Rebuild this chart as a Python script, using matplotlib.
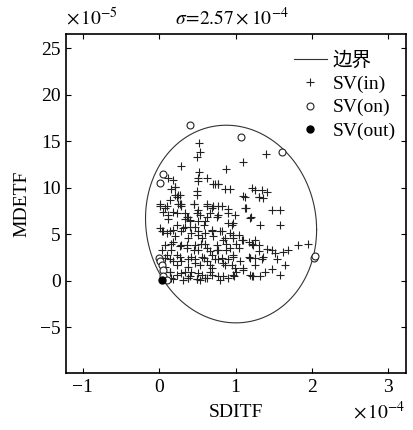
import numpy as np
import matplotlib
matplotlib.use("Agg")
import matplotlib.pyplot as plt

plt.rcParams['font.family'] = ['Liberation Serif', 'Noto Sans CJK SC']
plt.rcParams['mathtext.fontset'] = 'stix'

# SDITF in units of 1e-4, MDETF in units of 1e-5
sigma_txt = r'$\sigma\!=\!2.57\times10^{-4}$'

in_x = [
    0.52, 0.53, 0.50, 1.40, 0.29, 1.10, 0.87, 0.52, 0.51, 0.62, 0.73, 0.77,
    0.12, 0.18, 0.21, 0.16, 0.25, 0.23, 0.14,
    0.21, 0.51, 0.71, 0.77, 0.86, 0.93, 1.21, 1.34, 1.25, 1.36, 1.41, 1.12, 1.30,
    0.21, 0.27, 0.49, 0.49, 1.10, 1.30,
    0.01, 0.10, 0.25, 0.29, 0.46, 0.62, 0.71, 0.82, 1.12, 1.14, 1.47, 1.58,
    0.05, 0.18, 0.34, 0.38, 0.49, 0.66, 0.77, 0.90, 0.99, 1.20,
    0.12, 0.34, 0.40, 0.51, 0.60, 1.19, 1.32, 1.58,
    0.01, 0.23, 0.34, 0.47, 0.58, 0.90, 0.97,
    0.05, 0.14, 0.29, 0.42, 0.51, 0.69, 0.82, 0.93, 1.04,
    0.21, 0.38, 0.56, 0.71, 0.84, 0.97, 1.08, 1.17, 1.25, 1.10,
    0.18, 0.29, 0.47, 0.60, 0.75, 0.88, 1.01, 1.23, 1.21, 1.30, 1.95, 1.82,
    0.03, 0.16, 0.36, 0.51, 0.66, 0.77, 0.93, 1.04, 1.30, 1.41, 1.47, 1.51,
    1.62, 1.69,
    0.10, 0.23, 0.42, 0.56, 0.69, 0.82, 0.97, 1.17, 1.25, 1.36, 1.54, 1.19,
    0.14, 0.29, 0.47, 0.62, 0.77, 0.90, 1.06, 1.34,
    0.08, 0.23, 0.38, 0.53, 0.69, 0.86, 0.99, 1.10, 1.25, 1.65, 1.47, 1.10,
    0.14, 0.29, 0.42, 0.56, 0.66, 0.77, 0.97, 1.19, 1.23, 1.38, 1.01, 1.58,
    0.16, 0.38, 0.49, 0.62, 0.84, 1.32, 1.21, 0.98,
    0.01, 0.07, 0.27, 0.29, 0.45, 0.51, 0.62, 0.69, 0.77, 0.90,
    0.12, 0.23, 0.36, 0.40, 0.53, 0.62, 0.75, 0.95,
    0.03, 0.10, 0.18, 0.31, 0.40, 0.51, 0.60, 0.69, 0.79, 0.86, 0.97,
    0.07, 0.16, 0.27, 0.36, 0.45, 0.55, 0.62, 0.75, 0.88, 0.97,
    0.07, 0.18, 0.27, 0.38, 0.47, 0.58, 0.66, 0.73, 0.84, 0.95,
    0.14, 0.23, 0.34, 0.40, 0.51, 0.60, 0.69, 0.79, 0.90,
    0.18, 0.31, 0.38, 0.49, 0.53,
]
in_y = [
    14.8, 13.8, 13.3, 13.6, 12.3, 12.8, 12.0, 11.7, 11.0, 11.0, 10.4, 10.4,
    11.0, 10.8, 10.1, 9.9, 9.2, 9.0, 8.7,
    10.1, 10.7, 10.4, 10.4, 9.9, 9.9, 10.0, 9.8, 9.8, 8.9, 9.5, 9.0, 9.0,
    9.2, 9.2, 9.6, 9.2, 9.1, 9.0,
    8.2, 8.0, 8.3, 8.3, 8.2, 8.2, 8.0, 8.0, 7.8, 7.8, 7.6, 7.6,
    7.4, 7.4, 7.3, 6.9, 7.3, 7.3, 7.1, 7.3, 7.1, 6.9,
    6.6, 6.6, 6.4, 6.4, 6.4, 6.8, 6.0, 6.0,
    5.7, 6.0, 5.8, 5.8, 6.0, 6.2, 6.2,
    5.3, 5.3, 5.3, 5.1, 5.3, 5.5, 5.3, 5.1, 4.9,
    4.8, 4.6, 4.6, 4.8, 4.4, 4.6, 4.4, 4.2, 4.4, 4.4,
    4.2, 3.9, 3.9, 4.0, 3.9, 4.0, 4.0, 3.9, 4.0, 3.9, 4.0, 3.8,
    3.3, 3.3, 3.5, 3.3, 3.2, 3.3, 3.5, 3.5, 3.2, 3.4, 3.3, 3.0,
    3.1, 3.3,
    2.8, 2.8, 2.6, 2.6, 2.8, 2.4, 2.6, 2.6, 2.4, 2.6, 2.3, 2.4,
    2.3, 2.1, 2.3, 2.1, 2.3, 2.3, 2.1, 2.3,
    1.5, 1.7, 1.5, 1.7, 1.4, 1.7, 1.4, 1.4, 1.7, 1.7, 1.3, 1.2,
    1.0, 0.8, 1.0, 0.6, 1.0, 0.5, 0.6, 0.6, 0.5, 1.0, 0.9, 0.6,
    0.3, 0.3, 0.2, 0.3, 0.5, 0.5, 0.5, 0.5,
    8.0, 7.8, 8.3, 8.0, 8.2, 7.6, 8.0, 7.8, 8.0, 7.7,
    7.1, 7.3, 6.9, 6.5, 7.1, 6.9, 6.9, 6.0,
    5.3, 5.1, 5.5, 5.7, 5.8, 4.9, 5.1, 5.3, 5.3, 4.6, 4.9,
    3.9, 4.0, 3.7, 3.9, 3.3, 4.0, 3.5, 3.3, 3.3, 2.8,
    2.4, 2.1, 2.6, 2.3, 1.9, 2.4, 1.7, 2.3, 1.9, 1.7,
    1.0, 0.6, 1.0, 0.5, 0.8, 0.3, 0.6, 0.1, 0.3,
    0.2, 0.1, 0.3, 0.2, 0.1,
]

on_x = [0.40, 1.07, 1.61, 0.05, 0.01, 2.02, 2.04, 0.00, 0.01, 0.03, 0.05, 0.05, 0.10]
on_y = [16.7, 15.4, 13.8, 11.5, 10.5, 2.4, 2.7, 2.4, 2.1, 1.7, 1.2, 0.5, 0.1]

out_x = [0.03]
out_y = [0.05]

# boundary curve: x = cx + rx*cos t, y = cy + ry*sin t + tilt*cos t
bnd_cx, bnd_cy = 0.94, 6.1
bnd_rx, bnd_ry = 1.12, 10.6
bnd_tilt = -0.6

xlim = (-1.22, 3.23)
ylim = (-9.9, 26.5)
xticks = [-1, 0, 1, 2, 3]
yticks = [-5, 0, 5, 10, 15, 20, 25]

fig = plt.figure(figsize=(4.13, 4.30), dpi=100)
ax = fig.add_axes([0.160, 0.1326, 0.823, 0.788])

t = np.linspace(0, 2 * np.pi, 400)
bx = bnd_cx + bnd_rx * np.cos(t)
by = bnd_cy + bnd_ry * np.sin(t) + bnd_tilt * np.cos(t)
ax.plot(bx, by, color='#333333', lw=0.8, label='边界')
ax.plot(in_x, in_y, '+', color='#222222', ms=5.5, mew=0.8, label='SV(in)')
ax.plot(on_x, on_y, 'o', mfc='white', mec='#222222', ms=5, mew=0.8, label='SV(on)')
ax.plot(out_x, out_y, 'o', color='black', ms=5, label='SV(out)')

ax.set_xlim(*xlim)
ax.set_ylim(*ylim)
ax.set_xticks(xticks)
ax.set_yticks(yticks)
ax.set_xticklabels(['\u22121', '0', '1', '2', '3'])
ax.set_yticklabels(['\u22125', '0', '5', '10', '15', '20', '25'])
ax.tick_params(direction='in', top=True, right=True, length=3.5, width=0.8,
               labelsize=14, pad=4)
for s in ax.spines.values():
    s.set_linewidth(1.2)

ax.set_xlabel('SDITF', fontsize=14, labelpad=6)
ax.set_ylabel('MDETF', fontsize=14, labelpad=7)

fig.text(0.160, 0.958, r'$\times\,10^{-5}$', fontsize=14, ha='left', va='center')
fig.text(0.562, 0.958, sigma_txt, fontsize=14, ha='center', va='center')
fig.text(0.983, 0.043, r'$\times\,10^{-4}$', fontsize=14, ha='right', va='center')

ax.legend(loc='upper right', frameon=False, fontsize=14, handlelength=1.7,
          handletextpad=0.3, labelspacing=0.3, borderaxespad=0.3,
          bbox_to_anchor=(1.01, 0.99))

fig.savefig('out.png', dpi=100)
